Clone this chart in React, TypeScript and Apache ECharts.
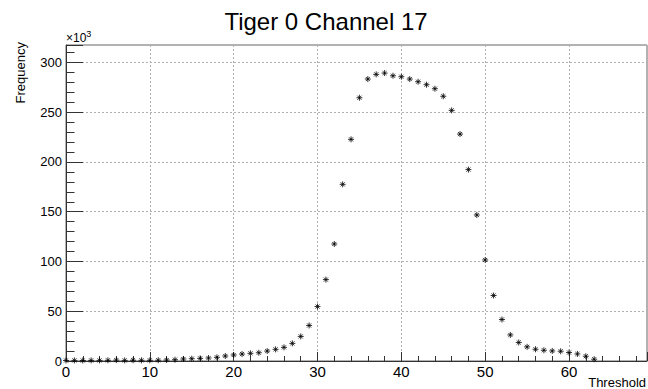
import React, { useEffect, useRef } from "react";
import * as echarts from "echarts";

const thresholds = [
  0, 1, 2, 3, 4, 5, 6, 7, 8, 9, 10, 11, 12, 13, 14, 15, 16, 17, 18, 19, 20, 21,
  22, 23, 24, 25, 26, 27, 28, 29, 30, 31, 32, 33, 34, 35, 36, 37, 38, 39, 40,
  41, 42, 43, 44, 45, 46, 47, 48, 49, 50, 51, 52, 53, 54, 55, 56, 57, 58, 59,
  60, 61, 62, 63,
];

// Frequency in units of 10^3
const frequency = [
  0.5, 0.6, 0.5, 0.6, 0.6, 0.7, 0.9, 0.6, 0.8, 0.7, 0.7, 0.8, 1.0, 1.3, 2.0,
  2.3, 2.6, 3.0, 3.7, 5.0, 6.0, 7.0, 7.7, 8.3, 10.0, 11.7, 13.7, 17.7, 24.7,
  35.7, 54.7, 81.8, 117.6, 177.5, 222.7, 264.5, 283.3, 288.0, 289.3, 286.6,
  285.6, 283.3, 280.6, 277.6, 273.6, 266.0, 251.8, 228.0, 192.3, 146.7, 101.5,
  65.8, 41.7, 26.2, 18.6, 14.2, 11.8, 10.8, 10.1, 9.8, 8.5, 7.1, 4.8, 1.8,
];

const title = "Tiger 0 Channel 17";
const xTitle = "Threshold";
const yTitle = "Frequency";

const X_MAX = 69.3;
const Y_MAX = 317.5;

const FONT = "Liberation Sans, Arial, Helvetica, sans-serif";
const STAR = "path://M0 5L10 5M5 0L5 10M1.6 1.6L8.4 8.4M8.4 1.6L1.6 8.4";

export default function App() {
  const ref = useRef<HTMLDivElement>(null);
  useEffect(() => {
    if (!ref.current) return;
    const chart = echarts.init(ref.current, null, { renderer: "svg" });
    const axisColor = "#333";
    const gridLine = { show: true, lineStyle: { color: "#b0b0b0", type: [2, 2] as any, width: 1 } };
    chart.setOption({
      animation: false,
      backgroundColor: "#fff",
      grid: {
        left: 66,
        right: 1,
        top: 45,
        bottom: 28,
        show: true,
        borderColor: "#666",
        borderWidth: 1,
        outerBoundsMode: "none",
        containLabel: false,
      },
      xAxis: [
        {
          type: "value",
          min: 0,
          max: X_MAX,
          interval: 10,
          position: "bottom",
          axisLine: { show: true, lineStyle: { color: axisColor, width: 1 } },
          axisTick: { show: true, inside: true, length: 9, lineStyle: { color: axisColor } },
          axisLabel: {
            show: true,
            fontSize: 15,
            fontFamily: FONT,
            color: "#000",
            margin: 3,
            formatter: (v: number) => (Math.abs(v % 10) < 1e-9 ? String(v) : ""),
          },
          splitLine: gridLine,
        },
        {
          type: "value",
          min: 0,
          max: X_MAX,
          interval: 2,
          position: "bottom",
          offset: 0,
          axisLine: { show: false },
          axisTick: { show: true, inside: true, length: 5, lineStyle: { color: axisColor } },
          axisLabel: { show: false },
          splitLine: { show: false },
        },
      ],
      yAxis: [
        {
          type: "value",
          min: 0,
          max: Y_MAX,
          interval: 50,
          position: "left",
          axisLine: { show: true, lineStyle: { color: axisColor, width: 1 } },
          axisTick: { show: true, inside: true, length: 17, lineStyle: { color: axisColor } },
          axisLabel: {
            show: true,
            fontSize: 13,
            fontFamily: FONT,
            color: "#000",
            margin: 4,
            formatter: (v: number) => (Math.abs(v % 50) < 1e-9 ? String(v) : ""),
          },
          splitLine: gridLine,
        },
        {
          type: "value",
          min: 0,
          max: Y_MAX,
          interval: 10,
          position: "left",
          offset: 0,
          axisLine: { show: false },
          axisTick: { show: true, inside: true, length: 8.5, lineStyle: { color: axisColor } },
          axisLabel: { show: false },
          splitLine: { show: false },
        },
      ],
      series: [
        {
          type: "scatter",
          xAxisIndex: 0,
          yAxisIndex: 0,
          symbol: STAR,
          symbolSize: 6,
          itemStyle: { color: "#000", borderColor: "#000", borderWidth: 1 },
          data: thresholds.map((t, i) => [t, frequency[i]]),
        },
      ],
      graphic: [
        {
          type: "text",
          x: 326,
          y: 21,
          style: {
            text: title,
            fontSize: 24,
            fontFamily: FONT,
            fill: "#000",
            align: "center",
            verticalAlign: "middle",
          },
        },
        {
          type: "text",
          x: 66,
          y: 38,
          style: {
            text: "×10{s|3}",
            rich: { s: { fontSize: 9, fontFamily: FONT, fill: "#000", padding: [0, 0, 8, 0] } },
            fontSize: 12,
            fontFamily: FONT,
            fill: "#000",
            align: "left",
            verticalAlign: "middle",
          },
        },
        {
          type: "text",
          x: 20,
          y: 42,
          rotation: Math.PI / 2,
          style: {
            text: yTitle,
            fontSize: 13,
            fontFamily: FONT,
            fill: "#000",
            align: "right",
            verticalAlign: "middle",
          },
        },
        {
          type: "text",
          x: 646,
          y: 382,
          style: {
            text: xTitle,
            fontSize: 13,
            fontFamily: FONT,
            fill: "#000",
            align: "right",
            verticalAlign: "middle",
          },
        },
      ],
    });
    return () => chart.dispose();
  }, []);
  return (
    <div
      ref={ref}
      style={{ position: "absolute", left: 0, top: 0, width: 648, height: 389 }}
    />
  );
}
